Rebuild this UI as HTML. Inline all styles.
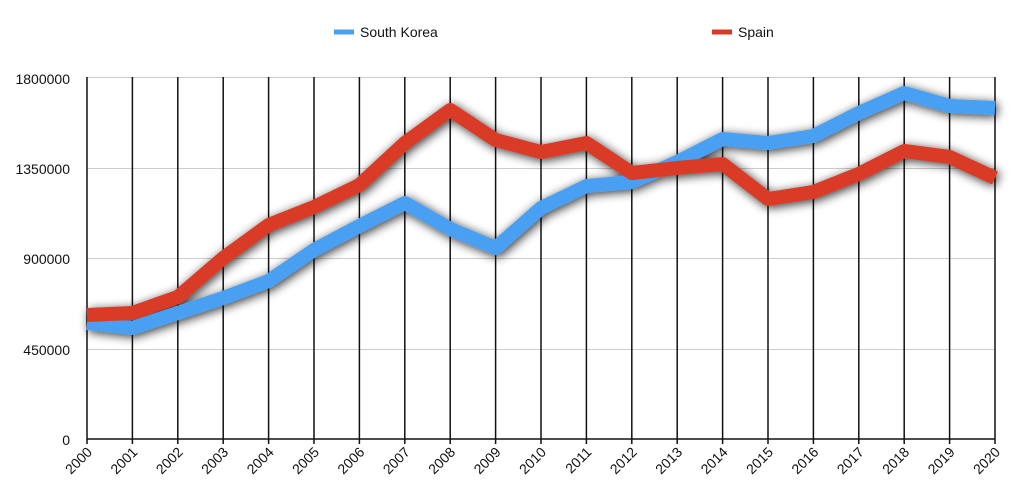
<!DOCTYPE html>
<html><head><meta charset="utf-8"><style>
body{margin:0;background:#fff;width:1024px;height:496px;overflow:hidden}
svg{font-family:"Liberation Sans",sans-serif}
</style></head><body>
<svg width="1024" height="496" viewBox="0 0 1024 496">
<defs>
<filter id="sh" x="-10%" y="-30%" width="120%" height="160%">
<feGaussianBlur in="SourceAlpha" stdDeviation="5"/>
<feOffset dx="2" dy="2"/>
<feComponentTransfer><feFuncA type="linear" slope="0.8"/></feComponentTransfer>
<feMerge><feMergeNode/><feMergeNode in="SourceGraphic"/></feMerge>
</filter>
</defs>
<g stroke="#ccc" stroke-width="1">
<line x1="87" y1="77.5" x2="995" y2="77.5"/>
<line x1="87" y1="168.5" x2="995" y2="168.5"/>
<line x1="87" y1="258.5" x2="995" y2="258.5"/>
<line x1="87" y1="349.5" x2="995" y2="349.5"/>
</g>
<g stroke="#111" stroke-width="1.5" id="vl"></g>
<line x1="87" y1="439" x2="995" y2="439" stroke="#111" stroke-width="1.5"/>
<g font-size="14" fill="#111" text-anchor="end">
<text x="70" y="84">1800000</text>
<text x="70" y="174">1350000</text>
<text x="70" y="264">900000</text>
<text x="70" y="355">450000</text>
<text x="70" y="445">0</text>
</g>
<g id="xl" font-size="14" fill="#111" text-anchor="end"></g>
<g filter="url(#sh)" fill="none" stroke-width="14" stroke-linejoin="round">
<polyline id="sk" stroke="#4a9ff2"/>
<polyline id="sp" stroke="#d93a26"/>
</g>
<line x1="334" y1="32" x2="354" y2="32" stroke="#4a9ff2" stroke-width="5"/>
<text x="360" y="37" font-size="14" fill="#111">South Korea</text>
<line x1="712" y1="32" x2="732" y2="32" stroke="#d93a26" stroke-width="5"/>
<text x="738" y="37" font-size="14" fill="#111">Spain</text>
</svg>
<script>
var x0=87,dx=(995-87)/20,ns="http://www.w3.org/2000/svg";
var vl=document.getElementById('vl'),xl=document.getElementById('xl');
for(var i=0;i<=20;i++){var x=x0+i*dx;
var l=document.createElementNS(ns,'line');l.setAttribute('x1',x);l.setAttribute('x2',x);l.setAttribute('y1',77);l.setAttribute('y2',444);vl.appendChild(l);
var t=document.createElementNS(ns,'text');t.setAttribute('transform','translate('+(x+6)+',453) rotate(-45)');t.textContent=2000+i;xl.appendChild(t);}
var sk=[323,328,313,298,281,250,226,203,229,248,208,186,182,162,139,143,136,113,93,106,108];
var sp=[315,313,297,258,225,207,185,143,110,140,152,143,173,168,164,199,192,174,151,157,178];
function pts(a){return a.map(function(y,i){return (x0+i*dx)+','+y}).join(' ')}
document.getElementById('sk').setAttribute('points',pts(sk));
document.getElementById('sp').setAttribute('points',pts(sp));
</script>
</body></html>
